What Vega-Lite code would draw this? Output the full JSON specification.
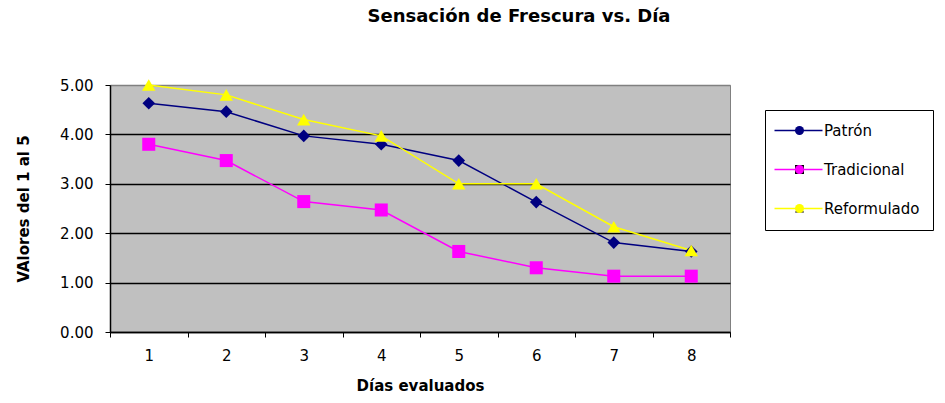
{
  "$schema": "https://vega.github.io/schema/vega-lite/v6.json",
  "width": 620,
  "height": 247,
  "autosize": {"type": "none"},
  "padding": {"left": 110, "top": 85, "right": 215, "bottom": 71},
  "background": "white",
  "config": {
    "font": "DejaVu Sans",
    "view": {"fill": "#C0C0C0", "stroke": "#808080", "strokeWidth": 1}
  },
  "title": {
    "text": "Sensación de Frescura vs. Día",
    "fontSize": 18,
    "fontWeight": "bold",
    "color": "black",
    "anchor": "middle",
    "frame": "group",
    "dx": 99,
    "offset": 52
  },
  "data": {
    "values": [
      {"dia": 1, "serie": "Patrón", "valor": 4.63},
      {"dia": 2, "serie": "Patrón", "valor": 4.46},
      {"dia": 3, "serie": "Patrón", "valor": 3.97},
      {"dia": 4, "serie": "Patrón", "valor": 3.8},
      {"dia": 5, "serie": "Patrón", "valor": 3.47},
      {"dia": 6, "serie": "Patrón", "valor": 2.63},
      {"dia": 7, "serie": "Patrón", "valor": 1.81},
      {"dia": 8, "serie": "Patrón", "valor": 1.63},
      {"dia": 1, "serie": "Tradicional", "valor": 3.8},
      {"dia": 2, "serie": "Tradicional", "valor": 3.47},
      {"dia": 3, "serie": "Tradicional", "valor": 2.64},
      {"dia": 4, "serie": "Tradicional", "valor": 2.47},
      {"dia": 5, "serie": "Tradicional", "valor": 1.63},
      {"dia": 6, "serie": "Tradicional", "valor": 1.3},
      {"dia": 7, "serie": "Tradicional", "valor": 1.13},
      {"dia": 8, "serie": "Tradicional", "valor": 1.13},
      {"dia": 1, "serie": "Reformulado", "valor": 5.0},
      {"dia": 2, "serie": "Reformulado", "valor": 4.8},
      {"dia": 3, "serie": "Reformulado", "valor": 4.3},
      {"dia": 4, "serie": "Reformulado", "valor": 3.97},
      {"dia": 5, "serie": "Reformulado", "valor": 3.0},
      {"dia": 6, "serie": "Reformulado", "valor": 3.0},
      {"dia": 7, "serie": "Reformulado", "valor": 2.13},
      {"dia": 8, "serie": "Reformulado", "valor": 1.65}
    ]
  },
  "encoding": {
    "x": {
      "field": "dia",
      "type": "ordinal",
      "bandPosition": 0.5,
      "scale": {"type": "band", "paddingInner": 0, "paddingOuter": 0},
      "axis": {
        "title": "Días evaluados",
        "titleFontSize": 15,
        "titleFontWeight": "bold",
        "titleColor": "black",
        "titlePadding": 15,
        "labelAngle": 0,
        "labelFontSize": 15,
        "labelColor": "black",
        "labelPadding": 11,
        "tickBand": "extent",
        "tickColor": "black",
        "tickSize": 5,
        "domainColor": "black",
        "domainWidth": 1.5,
        "grid": false
      }
    },
    "y": {
      "field": "valor",
      "type": "quantitative",
      "scale": {"domain": [0, 5]},
      "axis": {
        "title": "VAlores del 1 al 5",
        "values": [0, 1, 2, 3, 4, 5],
        "format": ".2f",
        "grid": true,
        "gridColor": {"condition": {"test": "datum.value === 5", "value": "#808080"}, "value": "black"},
        "gridWidth": 1.5,
        "tickColor": "black",
        "tickSize": 5,
        "labelFontSize": 15,
        "labelColor": "black",
        "labelPadding": 12,
        "titleFontSize": 15,
        "titleFontWeight": "bold",
        "titleColor": "black",
        "titlePadding": 28,
        "domainColor": "black",
        "domainWidth": 1.5
      }
    }
  },
  "layer": [
    {
      "mark": {"type": "line", "strokeWidth": 1.5},
      "encoding": {
        "stroke": {
          "field": "serie",
          "type": "nominal",
          "scale": {
            "domain": ["Patrón", "Tradicional", "Reformulado"],
            "range": ["#000080", "#FF00FF", "#FFFF00"]
          },
          "legend": {
            "title": null,
            "orient": "none",
            "legendX": 655,
            "legendY": 25,
            "padding": 13,
            "strokeColor": "black",
            "symbolType": "M-4,0H4",
            "symbolSize": 144,
            "symbolOffset": 13,
            "symbolStrokeWidth": 1.5,
            "labelFontSize": 15,
            "labelColor": "black",
            "labelOffset": 18,
            "rowPadding": 23
          }
        }
      }
    },
    {
      "mark": {"type": "point", "filled": true, "opacity": 1},
      "encoding": {
        "shape": {
          "field": "serie",
          "type": "nominal",
          "sort": ["Patrón", "Tradicional", "Reformulado"],
          "scale": {"range": ["diamond", "square", "triangle-up"]},
          "legend": {
            "title": null,
            "orient": "none",
            "legendX": 655,
            "legendY": 25,
            "padding": 13,
            "symbolSize": 81,
            "symbolOffset": 14,
            "labelFontSize": 15,
            "labelExpr": "''",
            "labelOffset": 5,
            "rowPadding": 23
          }
        },
        "fill": {
          "field": "serie",
          "type": "nominal",
          "sort": ["Patrón", "Tradicional", "Reformulado"],
          "scale": {"range": ["#000080", "#FF00FF", "#FFFF00"]},
          "legend": {
            "title": null,
            "orient": "none",
            "legendX": 655,
            "legendY": 25,
            "padding": 13,
            "symbolSize": 81,
            "symbolOffset": 14,
            "labelFontSize": 15,
            "labelExpr": "''",
            "labelOffset": 5,
            "rowPadding": 23
          }
        },
        "size": {
          "field": "serie",
          "type": "nominal",
          "sort": ["Patrón", "Tradicional", "Reformulado"],
          "scale": {"range": [160, 180, 210]},
          "legend": null
        }
      }
    }
  ]
}
